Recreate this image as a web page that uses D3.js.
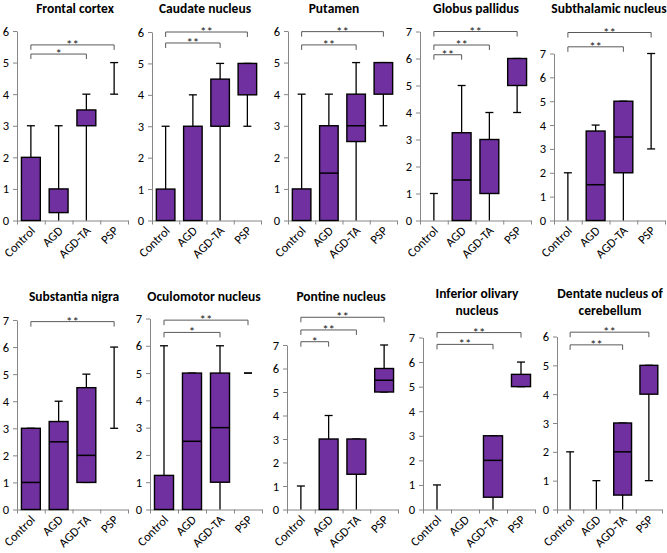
<!DOCTYPE html>
<html><head><meta charset="utf-8">
<script src="https://cdn.jsdelivr.net/npm/d3@7"></script>
<style>body{margin:0;background:#fff}svg{display:block}</style>
</head><body>
<svg id="chart" width="667" height="553"></svg>
<script>
// ---- data ----
const groups = ["Control", "AGD", "AGD-TA", "PSP"];
const regionTitles = [
  ["Frontal cortex"], ["Caudate nucleus"], ["Putamen"], ["Globus pallidus"], ["Subthalamic nucleus"],
  ["Substantia nigra"], ["Oculomotor nucleus"], ["Pontine nucleus"], ["Inferior olivary", "nucleus"], ["Dentate nucleus of", "cerebellum"]
];
const yMaxValues = [6, 6, 6, 7, 7, 7, 7, 7, 7, 6];
// five-number summaries per group: [min, q1, median, q3, max]
const frontalCortex   = [[0,0,0,2,3],[0,0.25,1,1,3],[0,3,3,3.5,4],[4,5,5,5,5]];
const caudateNucleus  = [[0,0,0,1,3],[0,0,3,3,4],[0,3,3,4.5,5],[3,4,5,5,5]];
const putamen         = [[0,0,0,1,4],[0,0,1.5,3,4],[0,2.5,3,4,5],[3,4,5,5,5]];
const globusPallidus  = [[0,0,0,0,1],[0,0,1.5,3.25,5],[0,1,3,3,4],[4,5,6,6,6]];
const subthalamic     = [[0,0,0,0,2],[0,0,1.5,3.75,4],[0,2,3.5,5,5],[3,7,7,7,7]];
const substantiaNigra = [[0,0,1,3,3],[0,0,2.5,3.25,4],[1,1,2,4.5,5],[3,6,6,6,6]];
const oculomotor      = [[0,0,0,1.25,6],[0,0,2.5,5,5],[0,1,3,5,6],[5,5,5,5,5]];
const pontine         = [[0,0,0,0,1],[0,0,3,3,4],[0,1.5,3,3,3],[5,5,5.5,6,7]];
const infOlivary      = [[0,0,0,0,1],null,[0,0.5,2,3,3],[5,5,5.5,5.5,6]];
const dentate         = [[0,0,0,0,2],[0,0,0,0,1],[0,0.5,2,3,3],[1,4,5,5,5]];
const regionData = [frontalCortex, caudateNucleus, putamen, globusPallidus, subthalamic,
  substantiaNigra, oculomotor, pontine, infOlivary, dentate];
// significance brackets: [fromGroup, toGroup, label, level (axis units)]
const significance = [
  [[0,3,"**",5.56],[0,2,"*",5.27]],
  [[0,3,"**",6.0],[0,2,"**",5.65]],
  [[0,3,"**",5.98],[0,2,"**",5.56]],
  [[0,3,"**",7.0],[0,2,"**",6.5],[0,1,"**",6.14]],
  [[0,3,"**",7.88],[0,2,"**",7.28]],
  [[0,3,"**",6.94]],
  [[0,3,"**",6.94],[0,2,"*",6.49]],
  [[0,3,"**",8.18],[0,2,"**",7.64],[0,1,"*",7.14]],
  [[0,3,"**",7.2],[0,2,"**",6.72]],
  [[0,3,"**",6.15],[0,2,"**",5.71]]
];

// ---- layout (pixels) ----
const layout = [
  {x0:17, x1:128, top:31,   bot:220.5, tx:75,  ty:[13]},
  {x0:152,x1:261, top:32,   bot:220.5, tx:205, ty:[13]},
  {x0:288,x1:397, top:31,   bot:220.5, tx:334, ty:[13]},
  {x0:420,x1:531, top:31.5, bot:220.5, tx:476, ty:[13]},
  {x0:554,x1:665, top:53.5, bot:220.5, tx:609, ty:[13]},
  {x0:17, x1:128, top:320,  bot:509.5, tx:74,  ty:[301]},
  {x0:150,x1:262, top:318.5,bot:509.5, tx:204, ty:[301]},
  {x0:287,x1:398, top:345,  bot:509.5, tx:341, ty:[301]},
  {x0:423,x1:535, top:337.5,bot:509.5, tx:477, ty:[298,315]},
  {x0:557,x1:662, top:336.5,bot:509.5, tx:610, ty:[298,315]}
];

const FONT = "Carlito, Lato, 'Open Sans', sans-serif";
const PURPLE = "#7030A0";
const AXIS = "#868686";
const svg = d3.select("#chart").style("font-family", FONT);

regionData.forEach((data, i) => {
  const L = layout[i];
  const g = svg.append("g");
  const x = d3.scaleBand().domain(groups).range([L.x0, L.x1]).padding(0);
  const xEdge = d3.scaleLinear().domain([0, groups.length]).range([L.x0, L.x1]);
  const y = d3.scaleLinear().domain([0, yMaxValues[i]]).range([L.bot, L.top]);

  // title (one text element per line)
  regionTitles[i].forEach((line, k) => {
    g.append("text").attr("text-anchor", "middle")
      .attr("font-weight", "bold").attr("font-size", 13.5).attr("fill", "#000")
      .attr("x", L.tx).attr("y", L.ty[k]).text(line);
  });

  // y axis
  const ya = g.append("g").attr("transform", `translate(${L.x0},0)`)
    .call(d3.axisLeft(y).ticks(yMaxValues[i]).tickFormat(d3.format("d")).tickSizeInner(4).tickSizeOuter(0).tickPadding(4));
  ya.select(".domain").attr("stroke", AXIS);
  ya.selectAll(".tick line").attr("stroke", AXIS);
  ya.selectAll(".tick text").attr("font-size", 12.5).attr("fill", "#000").style("font-family", FONT);

  // x axis (ticks at category boundaries)
  const xa = g.append("g").attr("transform", `translate(0,${L.bot})`)
    .call(d3.axisBottom(xEdge).tickValues(d3.range(groups.length + 1)).tickFormat("").tickSizeInner(4).tickSizeOuter(0));
  xa.select(".domain").attr("stroke", AXIS);
  xa.selectAll(".tick line").attr("stroke", AXIS);

  // category labels
  groups.forEach(gr => {
    const cx = x(gr) + x.bandwidth() / 2;
    g.append("text").attr("text-anchor", "end").attr("font-size", 12.5).attr("fill", "#000")
      .attr("transform", `translate(${cx + 5},${L.bot + 11}) rotate(-45)`)
      .text(gr);
  });

  const bw = x.bandwidth() * 0.68;
  const capW = 8;
  data.forEach((d, j) => {
    if (!d) return;
    const [mn, q1, med, q3, mx] = d;
    const cx = x(groups[j]) + x.bandwidth() / 2;
    g.append("line").attr("x1", cx).attr("x2", cx).attr("y1", y(mn)).attr("y2", y(mx))
      .attr("stroke", "#000").attr("stroke-width", 1.3);
    [mn, mx].forEach(v => {
      if (v === 0) return;
      g.append("line").attr("x1", cx - capW/2).attr("x2", cx + capW/2).attr("y1", y(v)).attr("y2", y(v))
        .attr("stroke", "#000").attr("stroke-width", 1.3);
    });
    if (q3 > q1) {
      g.append("rect").attr("x", cx - bw/2).attr("width", bw)
        .attr("y", y(q3)).attr("height", y(q1) - y(q3))
        .attr("fill", PURPLE).attr("stroke", "#000").attr("stroke-width", 1.4);
      if (med > q1 && med < q3) {
        g.append("line").attr("x1", cx - bw/2).attr("x2", cx + bw/2).attr("y1", y(med)).attr("y2", y(med))
          .attr("stroke", "#000").attr("stroke-width", 1.5);
      }
    }
  });

  // significance brackets
  significance[i].forEach(([a, b, lab, lev]) => {
    const xa1 = x(groups[a]) + x.bandwidth() / 2;
    const xb1 = x(groups[b]) + x.bandwidth() / 2;
    const yy = y(lev);
    g.append("path").attr("d", `M${xa1},${yy + 5}V${yy}H${xb1}V${yy + 5}`)
      .attr("fill", "none").attr("stroke", "#595959").attr("stroke-width", 1);
    g.append("text").attr("x", (xa1 + xb1) / 2).attr("y", yy + 4).attr("text-anchor", "middle")
      .attr("font-size", 13).attr("fill", "#222").text(lab);
  });
});
</script>
</body></html>
